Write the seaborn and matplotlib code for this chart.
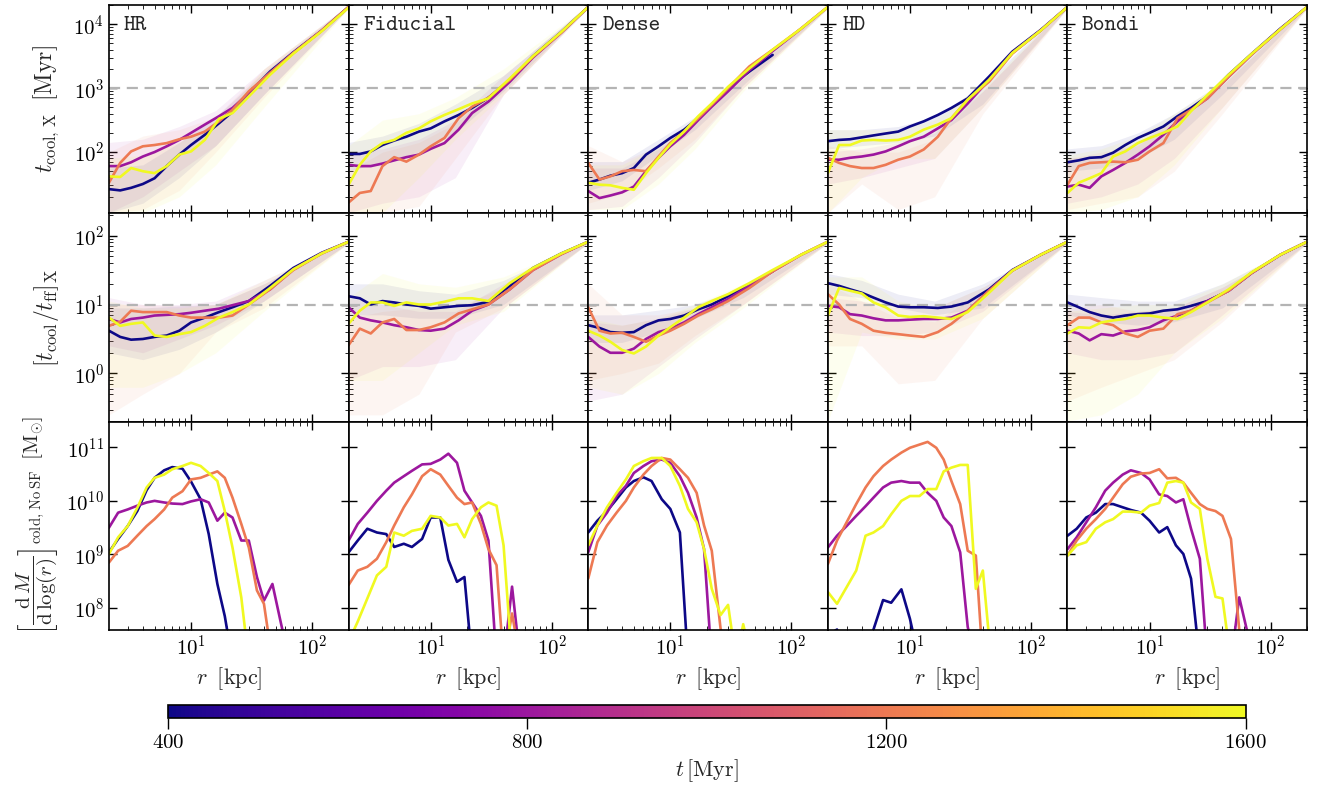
import matplotlib
matplotlib.use('Agg')
import matplotlib.pyplot as plt
import seaborn as sns
import numpy as np
import pandas as pd
from matplotlib import ticker
from matplotlib.colors import Normalize
from matplotlib.cm import ScalarMappable

sns.set_style('ticks')
plt.rcParams.update({
    'font.family': 'serif',
    'font.serif': ['cmr10'],
    'mathtext.fontset': 'cm',
    'axes.formatter.use_mathtext': True,
    'axes.unicode_minus': False,
    'font.size': 13,
    'xtick.direction': 'in',
    'ytick.direction': 'in',
    'xtick.top': True,
    'ytick.right': True,
    'xtick.major.size': 6,
    'ytick.major.size': 6,
    'xtick.minor.size': 3,
    'ytick.minor.size': 3,
    'xtick.major.width': 1.0,
    'ytick.major.width': 1.0,
    'axes.linewidth': 1.2,
    'axes.edgecolor': 'black',
    'xtick.color': 'black',
    'ytick.color': 'black',
})

runs = ['HR', 'Fiducial', 'Dense', 'HD', 'Bondi']
t_snap = [400, 800, 1200, 1600]

# radii [kpc]
r_prof = [2.1, 2.6, 3.2, 4, 5, 6.3, 8, 10, 13, 17, 22, 30, 45, 70, 120, 200]
r_band = [2.1, 4, 8, 16, 40, 200]
r_cold = [2.1, 2.5, 3, 3.6, 4.3, 5, 6, 7, 8.5, 10, 12, 14, 16.5, 19, 22, 26, 30, 35, 40, 47, 55, 65]

# log10 t_cool [Myr], one row per snapshot (400, 800, 1200, 1600 Myr)
tcool_HR = [
    [1.42, 1.40, 1.44, 1.50, 1.59, 1.78, 1.96, 2.11, 2.27, 2.45, 2.63, 2.92, 3.26, 3.56, 3.90, 4.27],
    [1.78, 1.78, 1.84, 1.93, 2.00, 2.09, 2.19, 2.30, 2.43, 2.56, 2.69, 2.92, 3.24, 3.55, 3.90, 4.27],
    [1.52, 1.83, 2.01, 2.09, 2.11, 2.14, 2.20, 2.24, 2.32, 2.48, 2.66, 2.95, 3.24, 3.55, 3.90, 4.27],
    [1.62, 1.61, 1.75, 1.70, 1.67, 1.78, 1.96, 2.01, 2.19, 2.52, 2.61, 2.87, 3.21, 3.54, 3.89, 4.26],
]
tcool_Fiducial = [
    [1.97, 1.97, 2.01, 2.11, 2.18, 2.24, 2.32, 2.37, 2.48, 2.58, 2.69, 2.85, 3.12, 3.50, 3.88, 4.27],
    [1.80, 1.78, 1.78, 1.82, 1.87, 1.92, 1.96, 2.05, 2.14, 2.35, 2.61, 2.79, 3.10, 3.48, 3.87, 4.27],
    [1.21, 1.36, 1.39, 1.78, 1.92, 1.85, 1.96, 2.09, 2.22, 2.53, 2.71, 2.85, 3.13, 3.49, 3.87, 4.27],
    [1.49, 1.80, 2.01, 2.14, 2.19, 2.30, 2.37, 2.48, 2.58, 2.67, 2.76, 2.84, 3.15, 3.50, 3.88, 4.27],
]
tcool_Dense = [
    [1.52, 1.57, 1.63, 1.67, 1.75, 1.96, 2.09, 2.22, 2.35, 2.53, 2.74, 3.00, 3.26, 3.52, None, None],
    [1.39, 1.28, 1.32, 1.37, 1.46, 1.70, 1.91, 2.09, 2.27, 2.50, 2.71, 2.95, 3.28, 3.58, 3.93, 4.27],
    [1.83, 1.57, 1.62, 1.70, 1.72, 1.70, 1.93, 2.14, 2.32, 2.53, 2.74, 3.00, 3.34, 3.60, 3.93, 4.27],
    [1.52, 1.49, 1.48, 1.44, 1.41, 1.67, 1.91, 2.12, 2.32, 2.56, 2.76, 3.02, 3.31, 3.60, 3.93, 4.27],
]
tcool_HD = [
    [2.17, 2.19, 2.20, 2.23, 2.26, 2.29, 2.32, 2.40, 2.48, 2.58, 2.69, 2.84, 3.18, 3.57, 3.91, 4.27],
    [1.88, 1.88, 1.91, 1.93, 1.96, 2.01, 2.09, 2.17, 2.24, 2.37, 2.50, 2.76, 3.13, 3.55, 3.90, 4.27],
    [1.91, 1.83, 1.78, 1.75, 1.75, 1.80, 1.88, 1.93, 2.04, 2.24, 2.53, 2.82, 3.10, 3.54, 3.90, 4.27],
    [1.67, 2.11, 2.11, 2.18, 2.19, 2.18, 2.19, 2.24, 2.35, 2.43, 2.53, 2.82, 3.13, 3.55, 3.90, 4.27],
]
tcool_Bondi = [
    [1.84, 1.87, 1.91, 1.92, 1.99, 2.11, 2.22, 2.30, 2.40, 2.56, 2.69, 2.87, 3.21, 3.54, 3.93, 4.27],
    [1.46, 1.49, 1.44, 1.62, 1.72, 1.83, 1.96, 2.09, 2.27, 2.48, 2.66, 2.84, 3.18, 3.53, 3.92, 4.27],
    [1.49, 1.78, 1.83, 1.84, 1.85, 1.84, 1.88, 2.01, 2.14, 2.53, 2.66, 2.84, 3.18, 3.53, 3.92, 4.27],
    [1.36, 1.52, 1.59, 1.67, 1.93, 2.01, 2.14, 2.22, 2.30, 2.40, 2.64, 2.89, 3.21, 3.54, 3.92, 4.27],
]

# log10 spread of t_cool (lower / upper) on r_band
tcool_lo_HR = [[1.05, 1.2, 1.6, 2.1, 2.9, 4.25], [1.05, 1.3, 1.7, 2.1, 2.9, 4.25],
               [1.05, 1.1, 1.4, 2.0, 2.85, 4.25], [1.05, 1.05, 1.3, 1.8, 2.7, 4.25]]
tcool_hi_HR = [[1.75, 1.8, 2.15, 2.55, 3.25, 4.3], [2.15, 2.2, 2.4, 2.65, 3.3, 4.3],
               [2.0, 2.25, 2.35, 2.55, 3.3, 4.3], [1.9, 1.95, 2.15, 2.45, 3.3, 4.3]]
tcool_lo_Fiducial = [[1.7, 1.85, 2.0, 2.3, 2.95, 4.25], [1.05, 1.2, 1.3, 1.6, 2.9, 4.25],
                     [1.05, 1.05, 1.15, 1.9, 2.9, 4.25], [1.05, 1.05, 1.6, 2.2, 2.9, 4.25]]
tcool_hi_Fiducial = [[2.15, 2.25, 2.45, 2.75, 3.2, 4.3], [2.0, 2.05, 2.2, 2.5, 3.2, 4.3],
                     [1.7, 2.0, 2.15, 2.45, 3.1, 4.3], [2.1, 2.5, 2.6, 2.85, 3.3, 4.3]]
tcool_lo_Dense = [[1.4, 1.55, 1.95, 2.35, 3.05, 4.25], [1.1, 1.15, 1.6, 2.15, 3.0, 4.25],
                  [1.2, 1.35, 1.75, 2.2, 3.0, 4.25], [1.1, 1.1, 1.5, 2.05, 2.95, 4.25]]
tcool_hi_Dense = [[1.85, 1.85, 2.2, 2.55, 3.2, 4.3], [1.75, 1.75, 2.05, 2.45, 3.15, 4.3],
                  [2.1, 1.85, 2.1, 2.5, 3.2, 4.3], [1.8, 1.8, 2.1, 2.5, 3.2, 4.3]]
tcool_lo_HD = [[2.05, 2.1, 2.15, 2.25, 2.75, 4.25], [1.5, 1.6, 1.75, 1.9, 2.7, 4.25],
               [1.05, 1.5, 1.1, 1.3, 2.6, 4.25], [1.05, 1.6, 1.9, 1.9, 2.7, 4.25]]
tcool_hi_HD = [[2.35, 2.35, 2.4, 2.55, 3.05, 4.3], [2.0, 2.05, 2.15, 2.3, 2.95, 4.3],
               [2.1, 2.0, 2.0, 2.2, 2.95, 4.3], [2.35, 2.35, 2.35, 2.5, 3.0, 4.3]]
tcool_lo_Bondi = [[1.7, 1.75, 1.9, 2.2, 2.9, 4.25], [1.2, 1.3, 1.5, 1.9, 2.7, 4.25],
                  [1.1, 1.2, 1.3, 1.7, 2.6, 4.25], [1.05, 1.1, 1.3, 1.8, 2.7, 4.25]]
tcool_hi_Bondi = [[2.05, 2.1, 2.3, 2.6, 3.1, 4.3], [1.9, 1.95, 2.15, 2.5, 3.05, 4.3],
                  [1.9, 2.0, 2.1, 2.5, 3.05, 4.3], [1.95, 2.05, 2.25, 2.6, 3.1, 4.3]]

# log10 t_cool / t_ff
ratio_HR = [
    [0.62, 0.53, 0.49, 0.50, 0.53, 0.55, 0.62, 0.74, 0.81, 0.89, 0.96, 1.05, 1.27, 1.53, 1.75, 1.91],
    [0.79, 0.74, 0.79, 0.81, 0.84, 0.85, 0.86, 0.88, 0.91, 0.94, 0.99, 1.05, 1.22, 1.51, 1.74, 1.91],
    [0.69, 0.75, 0.91, 0.89, 0.89, 0.89, 0.84, 0.81, 0.81, 0.81, 0.84, 1.00, 1.22, 1.50, 1.74, 1.91],
    [0.81, 0.69, 0.72, 0.74, 0.55, 0.53, 0.57, 0.60, 0.69, 0.81, 0.89, 1.00, 1.24, 1.51, 1.74, 1.91],
]
ratio_Fiducial = [
    [1.12, 1.09, 1.00, 1.05, 1.03, 1.00, 0.98, 0.94, 0.96, 0.98, 0.99, 1.04, 1.27, 1.53, 1.74, 1.91],
    [0.96, 0.81, 0.77, 0.74, 0.70, 0.67, 0.63, 0.62, 0.65, 0.77, 0.91, 1.00, 1.22, 1.50, 1.73, 1.91],
    [0.41, 0.65, 0.58, 0.74, 0.79, 0.63, 0.63, 0.67, 0.74, 0.87, 0.93, 1.00, 1.22, 1.50, 1.73, 1.91],
    [0.72, 0.91, 1.03, 1.03, 0.98, 1.03, 1.00, 1.00, 1.04, 1.09, 1.09, 1.05, 1.31, 1.53, 1.74, 1.91],
]
ratio_Dense = [
    [0.70, 0.66, 0.60, 0.59, 0.60, 0.70, 0.77, 0.79, 0.84, 0.93, 1.00, 1.12, 1.29, 1.48, None, None],
    [0.53, 0.39, 0.30, 0.30, 0.36, 0.50, 0.60, 0.65, 0.74, 0.86, 0.96, 1.08, 1.27, 1.48, 1.72, 1.91],
    [0.96, 0.62, 0.58, 0.59, 0.53, 0.46, 0.55, 0.62, 0.72, 0.84, 0.93, 1.05, 1.24, 1.48, 1.72, 1.91],
    [0.62, 0.55, 0.46, 0.34, 0.29, 0.39, 0.55, 0.67, 0.81, 0.96, 1.05, 1.15, 1.31, 1.50, 1.72, 1.91],
]
ratio_HD = [
    [1.31, 1.27, 1.22, 1.17, 1.10, 1.03, 0.97, 0.96, 0.96, 0.95, 0.97, 1.03, 1.22, 1.50, 1.72, 1.91],
    [0.98, 0.96, 0.86, 0.84, 0.80, 0.77, 0.77, 0.78, 0.79, 0.79, 0.81, 0.91, 1.20, 1.49, 1.72, 1.91],
    [1.15, 1.00, 0.79, 0.72, 0.62, 0.59, 0.57, 0.55, 0.53, 0.60, 0.72, 0.91, 1.20, 1.49, 1.72, 1.91],
    [0.84, 1.24, 1.20, 1.16, 1.03, 0.96, 0.84, 0.82, 0.83, 0.81, 0.79, 0.89, 1.17, 1.49, 1.72, 1.91],
]
ratio_Bondi = [
    [1.03, 0.96, 0.89, 0.84, 0.81, 0.84, 0.86, 0.87, 0.91, 0.93, 0.98, 1.05, 1.20, 1.46, 1.72, 1.91],
    [0.62, 0.58, 0.48, 0.57, 0.55, 0.61, 0.63, 0.67, 0.77, 0.84, 0.91, 1.05, 1.20, 1.46, 1.72, 1.91],
    [0.70, 0.81, 0.81, 0.74, 0.70, 0.58, 0.53, 0.62, 0.65, 0.86, 0.91, 1.03, 1.20, 1.46, 1.72, 1.91],
    [0.58, 0.67, 0.66, 0.74, 0.77, 0.79, 0.84, 0.84, 0.81, 0.79, 0.89, 1.03, 1.22, 1.47, 1.72, 1.91],
]

ratio_lo_HR = [[0.3, 0.2, 0.35, 0.6, 1.05, 1.89], [0.4, 0.3, 0.5, 0.7, 1.05, 1.89],
               [-0.6, -0.3, 0.0, 0.6, 0.95, 1.89], [-0.2, -0.2, 0.0, 0.3, 0.9, 1.89]]
ratio_hi_HR = [[0.95, 0.95, 0.98, 1.0, 1.3, 1.93], [1.1, 1.0, 1.0, 1.05, 1.35, 1.93],
               [1.0, 1.0, 0.98, 1.0, 1.3, 1.93], [1.05, 0.95, 0.95, 1.0, 1.35, 1.93]]
ratio_lo_Fiducial = [[0.85, 0.85, 0.8, 0.8, 1.0, 1.89], [-0.1, 0.1, 0.1, 0.2, 0.95, 1.89],
                     [-0.6, -0.6, -0.3, 0.6, 0.95, 1.89], [-0.1, -0.1, 0.3, 0.7, 0.9, 1.89]]
ratio_hi_Fiducial = [[1.3, 1.3, 1.2, 1.15, 1.35, 1.93], [1.1, 1.0, 0.9, 0.9, 1.3, 1.93],
                     [0.8, 0.9, 0.95, 0.95, 1.25, 1.93], [1.1, 1.45, 1.3, 1.25, 1.4, 1.93]]
ratio_lo_Dense = [[0.45, 0.45, 0.6, 0.8, 1.1, 1.89], [-0.4, -0.3, 0.1, 0.5, 1.0, 1.89],
                  [-0.1, 0.0, 0.15, 0.55, 1.0, 1.89], [-0.2, -0.3, 0.0, 0.45, 0.95, 1.89]]
ratio_hi_Dense = [[0.85, 0.85, 0.92, 1.0, 1.25, 1.93], [0.75, 0.7, 0.8, 0.95, 1.2, 1.93],
                  [1.3, 0.85, 0.85, 0.95, 1.25, 1.93], [0.8, 0.7, 0.8, 1.0, 1.3, 1.93]]
ratio_lo_HD = [[1.15, 1.1, 0.95, 0.85, 0.95, 1.89], [0.6, 0.55, 0.55, 0.6, 0.9, 1.89],
               [0.4, 0.4, -0.15, -0.1, 0.8, 1.89], [-0.69, 0.6, 0.5, 0.5, 0.8, 1.89]]
ratio_hi_HD = [[1.45, 1.35, 1.15, 1.05, 1.3, 1.93], [1.1, 1.05, 0.95, 0.95, 1.25, 1.93],
               [1.3, 1.05, 0.8, 0.75, 1.2, 1.93], [1.4, 1.4, 1.05, 0.95, 1.25, 1.93]]
ratio_lo_Bondi = [[0.85, 0.75, 0.7, 0.75, 0.95, 1.89], [0.3, 0.2, 0.2, 0.3, 0.85, 1.89],
                  [-0.4, -0.2, 0.0, 0.2, 0.75, 1.89], [-0.69, -0.6, -0.3, 0.3, 0.8, 1.89]]
ratio_hi_Bondi = [[1.15, 1.1, 1.05, 1.05, 1.3, 1.93], [0.9, 0.85, 0.9, 0.95, 1.25, 1.93],
                  [0.95, 1.0, 0.9, 0.95, 1.25, 1.93], [0.9, 0.95, 1.0, 1.0, 1.3, 1.93]]

# log10 dM/dlog(r) of cold, non star-forming gas [Msun]  (7.0 = below the axis)
cold_HR = [
    [9.04, 9.29, 9.53, 9.81, 10.20, 10.43, 10.57, 10.63, 10.60, 10.36, 10.03, 9.38, 8.45, 7.85, 7.0, 7.0, 7.0, 7.0, 7.0, 7.0, 7.0, 7.0],
    [9.50, 9.78, 9.84, 9.91, 9.97, 10.00, 9.97, 9.95, 9.94, 9.99, 10.03, 9.97, 9.63, 9.78, 9.69, 9.26, 9.26, 8.58, 8.14, 8.45, 7.74, 7.0],
    [8.85, 9.07, 9.16, 9.35, 9.53, 9.66, 9.84, 10.06, 10.18, 10.40, 10.43, 10.49, 10.55, 10.43, 10.06, 9.57, 9.13, 8.33, 8.08, 7.0, 7.0, 7.0],
    [9.01, 9.32, 9.53, 9.87, 10.25, 10.43, 10.49, 10.59, 10.65, 10.71, 10.65, 10.52, 10.37, 9.81, 9.13, 8.20, 7.0, 7.0, 7.0, 7.0, 7.0, 7.0],
]
cold_Fiducial = [
    [9.04, 9.26, 9.48, 9.41, 9.38, 9.14, 9.20, 9.14, 9.29, 9.69, 9.69, 8.90, 8.49, 8.58, 7.0, 7.0, 7.0, 7.0, 7.0, 7.0, 7.0, 7.0],
    [9.26, 9.57, 9.78, 10.00, 10.19, 10.34, 10.46, 10.56, 10.68, 10.69, 10.77, 10.88, 10.71, 10.19, 9.97, 9.72, 9.26, 7.0, 7.0, 8.40, 7.0, 7.0],
    [8.43, 8.70, 8.77, 8.92, 9.23, 9.54, 9.88, 10.12, 10.46, 10.59, 10.49, 10.28, 10.06, 9.94, 9.97, 9.57, 9.10, 8.80, 7.0, 7.90, 7.0, 7.0],
    [7.37, 7.75, 8.18, 8.61, 8.77, 9.41, 9.35, 9.44, 9.48, 9.72, 9.69, 9.54, 9.57, 9.32, 9.66, 9.88, 9.97, 9.91, 9.17, 7.0, 7.0, 7.0],
]
cold_Dense = [
    [9.41, 9.63, 9.81, 10.03, 10.25, 10.37, 10.44, 10.37, 10.03, 9.85, 9.41, 7.0, 7.0, 7.0, 7.0, 7.0, 7.0, 7.0, 7.0, 7.0, 7.0, 7.0],
    [9.04, 9.54, 9.78, 10.09, 10.28, 10.52, 10.65, 10.74, 10.77, 10.71, 10.46, 10.15, 9.69, 9.10, 7.0, 7.0, 7.0, 7.0, 7.0, 7.0, 7.0, 7.0],
    [8.55, 9.23, 9.54, 9.78, 10.00, 10.25, 10.49, 10.65, 10.80, 10.77, 10.59, 10.43, 10.15, 9.54, 9.07, 7.62, 7.0, 7.0, 7.0, 7.0, 7.0, 7.0],
    [9.17, 9.54, 9.88, 10.15, 10.40, 10.65, 10.74, 10.80, 10.80, 10.65, 10.28, 9.85, 9.60, 9.10, 8.36, 7.87, 8.06, 7.0, 7.70, 7.0, 7.0, 7.0],
]
cold_HD = [
    [7.50, 7.60, 7.0, 7.0, 7.0, 7.60, 8.15, 8.10, 8.35, 7.80, 7.0, 7.0, 7.0, 7.0, 7.0, 7.0, 7.0, 7.0, 7.0, 7.0, 7.0, 7.0],
    [9.13, 9.35, 9.53, 9.72, 9.90, 10.06, 10.25, 10.34, 10.37, 10.34, 10.34, 10.15, 10.00, 9.69, 9.53, 9.04, 7.65, 7.0, 7.0, 7.0, 7.0, 7.0],
    [8.82, 9.26, 9.60, 9.94, 10.25, 10.46, 10.65, 10.77, 10.90, 10.99, 11.05, 11.10, 10.99, 10.77, 10.37, 9.94, 9.07, 8.98, 7.0, 7.0, 7.0, 7.0],
    [8.30, 8.08, 8.39, 8.70, 9.35, 9.41, 9.53, 9.75, 10.00, 10.09, 10.09, 10.22, 10.22, 10.55, 10.62, 10.67, 10.67, 8.36, 8.70, 7.0, 7.0, 7.0],
]
cold_Bondi = [
    [9.35, 9.48, 9.69, 9.78, 9.94, 9.94, 9.88, 9.83, 9.78, 9.63, 9.41, 9.51, 9.17, 9.01, 8.55, 7.0, 7.0, 7.0, 7.0, 7.0, 7.0, 7.0],
    [9.10, 9.32, 9.60, 9.88, 10.19, 10.34, 10.49, 10.57, 10.52, 10.40, 10.12, 10.09, 9.97, 10.03, 9.48, 8.92, 7.0, 7.0, 7.0, 7.0, 8.20, 7.50],
    [8.98, 9.26, 9.48, 9.66, 9.85, 10.06, 10.31, 10.45, 10.51, 10.52, 10.59, 10.42, 10.43, 10.34, 10.15, 9.94, 9.85, 9.81, 9.72, 9.29, 7.60, 7.0],
    [8.98, 9.17, 9.23, 9.48, 9.60, 9.66, 9.80, 9.80, 9.78, 9.91, 9.96, 10.34, 10.37, 10.34, 9.97, 9.85, 8.92, 8.21, 8.18, 7.0, 7.0, 7.0],
]

tcool = {'HR': tcool_HR, 'Fiducial': tcool_Fiducial, 'Dense': tcool_Dense, 'HD': tcool_HD, 'Bondi': tcool_Bondi}
tcool_lo = {'HR': tcool_lo_HR, 'Fiducial': tcool_lo_Fiducial, 'Dense': tcool_lo_Dense, 'HD': tcool_lo_HD, 'Bondi': tcool_lo_Bondi}
tcool_hi = {'HR': tcool_hi_HR, 'Fiducial': tcool_hi_Fiducial, 'Dense': tcool_hi_Dense, 'HD': tcool_hi_HD, 'Bondi': tcool_hi_Bondi}
ratio = {'HR': ratio_HR, 'Fiducial': ratio_Fiducial, 'Dense': ratio_Dense, 'HD': ratio_HD, 'Bondi': ratio_Bondi}
ratio_lo = {'HR': ratio_lo_HR, 'Fiducial': ratio_lo_Fiducial, 'Dense': ratio_lo_Dense, 'HD': ratio_lo_HD, 'Bondi': ratio_lo_Bondi}
ratio_hi = {'HR': ratio_hi_HR, 'Fiducial': ratio_hi_Fiducial, 'Dense': ratio_hi_Dense, 'HD': ratio_hi_HD, 'Bondi': ratio_hi_Bondi}
cold = {'HR': cold_HR, 'Fiducial': cold_Fiducial, 'Dense': cold_Dense, 'HD': cold_HD, 'Bondi': cold_Bondi}

cmap = plt.get_cmap('plasma')
norm = Normalize(400, 1600)


def to_frame(r, logvals):
    rows = []
    for t, vals in zip(t_snap, logvals):
        for ri, v in zip(r, vals):
            if v is not None:
                rows.append((ri, 10 ** v, t))
    return pd.DataFrame(rows, columns=['r', 'val', 't'])


def draw_lines(ax, r, logvals):
    df = to_frame(r, logvals)
    sns.lineplot(data=df, x='r', y='val', hue='t', palette='plasma', hue_norm=(400, 1600),
                 estimator=None, legend=False, lw=1.9, ax=ax)


def draw_bands(ax, lo, hi):
    for t, l, h in zip(t_snap, lo, hi):
        ax.fill_between(r_band, 10 ** np.array(l), 10 ** np.array(h),
                        color=cmap(norm(t)), alpha=0.07, lw=0)


fig, axes = plt.subplots(3, 5, sharex=True, sharey='row', figsize=(13.19, 7.89), dpi=100)
fig.subplots_adjust(left=0.0826, right=0.991, top=0.9937, bottom=0.2015, hspace=0, wspace=0)

for j, run in enumerate(runs):
    ax = axes[0, j]
    ax.set_xscale('log')
    ax.set_yscale('log')
    draw_bands(ax, tcool_lo[run], tcool_hi[run])
    ax.axhline(1e3, ls='--', color='#b4b4b4', lw=1.6, dashes=(5, 3))
    draw_lines(ax, r_prof, tcool[run])
    ax.text(0.06, 0.945, run, transform=ax.transAxes, family='cmtt10', fontsize=16, va='top', ha='left')

    ax = axes[1, j]
    ax.set_yscale('log')
    draw_bands(ax, ratio_lo[run], ratio_hi[run])
    ax.axhline(10, ls='--', color='#b4b4b4', lw=1.6, dashes=(5, 3))
    draw_lines(ax, r_prof, ratio[run])

    ax = axes[2, j]
    ax.set_yscale('log')
    draw_lines(ax, r_cold, cold[run])
    ax.set_xlabel(r'$r\;\;[\mathrm{kpc}]$', fontsize=16)

for ax in axes.flat:
    ax.set_xlim(2.1, 200)
    ax.set_ylabel('')
    ax.tick_params(which='both', direction='in', top=True, right=True)
    ax.xaxis.set_major_locator(ticker.LogLocator(base=10, numticks=10))
    ax.xaxis.set_minor_locator(ticker.LogLocator(base=10, subs=np.arange(2, 10), numticks=20))

axes[0, 0].set_ylim(11, 2e4)
axes[1, 0].set_ylim(0.2, 210)
axes[2, 0].set_ylim(3.9e7, 3e11)
for ax in axes[2]:
    ax.yaxis.set_minor_locator(ticker.NullLocator())

axes[0, 0].set_ylabel(r'$t_{\mathrm{cool,\,X}}\;\;[\mathrm{Myr}]$', fontsize=17)
axes[1, 0].set_ylabel(r'$[t_{\mathrm{cool}}/t_{\mathrm{ff}}]_{\mathrm{X}}$', fontsize=17)
axes[2, 0].set_ylabel(r'$\left[\dfrac{\mathrm{d}\,M}{\mathrm{d}\,\log(r)}\right]_{\mathrm{cold,\,No\,SF}}\;\;[\mathrm{M}_{\odot}]$',
                      fontsize=15)
for ax in axes[:, 0]:
    ax.tick_params(axis='y', labelsize=15)
for ax in axes[2]:
    ax.tick_params(axis='x', labelsize=15)
fig.align_ylabels(axes[:, 0])

cax = fig.add_axes([0.1274, 0.09, 0.817, 0.0165])
cb = fig.colorbar(ScalarMappable(norm=norm, cmap=cmap), cax=cax, orientation='horizontal')
cb.set_ticks([400, 800, 1200, 1600])
cb.ax.tick_params(direction='out', length=8, labelsize=15)
cb.ax.xaxis.set_minor_locator(ticker.NullLocator())
cb.set_label(r'$t\,[\mathrm{Myr}]$', fontsize=16)

fig.savefig('out.png', dpi=100)
